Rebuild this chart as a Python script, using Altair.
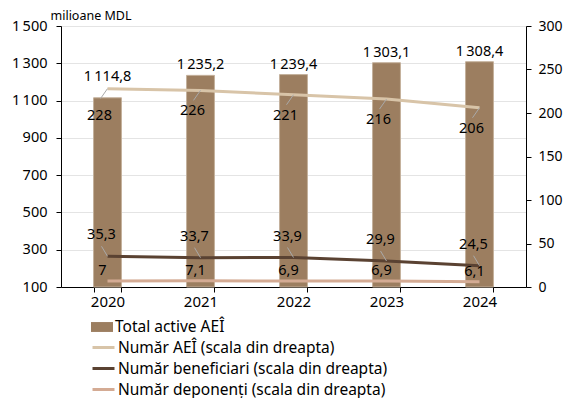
import altair as alt
import pandas as pd

years = ["2020", "2021", "2022", "2023", "2024"]
total_active = [1114.8, 1235.2, 1239.4, 1303.1, 1308.4]
nr_aei = [228, 226, 221, 216, 206]
nr_benef = [35.3, 33.7, 33.9, 29.9, 24.5]
nr_depon = [7, 7.1, 6.9, 6.9, 6.1]

bar_name = "Total active AEÎ"
s_aei = "Număr AEÎ (scala din dreapta)"
s_ben = "Număr beneficiari (scala din dreapta)"
s_dep = "Număr deponenți (scala din dreapta)"
line_names = [s_aei, s_ben, s_dep]

TS = "\u2009"


def ro(v):
    if float(v).is_integer():
        s = f"{int(v):,}"
    else:
        s = f"{v:,.1f}"
    return s.replace(",", "#").replace(".", ",").replace("#", TS)


bars = pd.DataFrame({"year": years, "value": total_active, "series": bar_name,
                     "label": [ro(v) for v in total_active]})
rows = []
for name, vals in zip(line_names, [nr_aei, nr_benef, nr_depon]):
    for y, v in zip(years, vals):
        rows.append({"year": y, "value": v, "series": name, "label": ro(v)})
lines = pd.DataFrame(rows)

FONT = "Noto Sans"
FS = 14.5
FX = 15
FL = 15.5
x_enc = alt.X("year:N", title=None,
              scale=alt.Scale(paddingInner=0.7, paddingOuter=0.35),
              axis=alt.Axis(labelAngle=0, tickBand="extent", tickSize=5, labelPadding=2,
                            labelFontSize=FX, domainColor="black", tickColor="black",
                            labelColor="black", labelFont=FONT))

yl_scale = alt.Scale(domain=[100, 1500], nice=False, zero=False)
left_axis = alt.Axis(values=[100, 300, 500, 700, 900, 1100, 1300, 1500],
                     labelExpr=f"replace(format(datum.value, ','), ',', '{TS}')",
                     labelOverlap=False,
                     title="milioane MDL", titleAngle=0, titleX=-11, titleY=-7,
                     titleAlign="left", titleBaseline="alphabetic", titleFontWeight="normal",
                     titleFontSize=12.5, titleFont=FONT, titleColor="black",
                     labelFontSize=FS, labelFont=FONT, labelColor="black",
                     tickSize=5, labelPadding=9, domainColor="black", tickColor="black",
                     grid=True, gridColor="#e4e4e4")
yl = alt.Y("value:Q", scale=yl_scale, axis=left_axis)

bar_color = alt.Color("series:N", title=None,
                      scale=alt.Scale(domain=[bar_name], range=["#9c7e60"]),
                      legend=alt.Legend(orient="none", legendX=30, legendY=290,
                                        symbolType="M-1,-0.45L1,-0.45L1,0.45L-1,0.45Z",
                                        symbolSize=484, symbolStrokeWidth=0,
                                        labelFontSize=FL, labelFont=FONT, labelColor="black",
                                        labelOffset=2, labelLimit=500, padding=0,
                                        direction="vertical"))

bar_layer = alt.Chart(bars).mark_bar(stroke="#c4b19c", strokeWidth=1).encode(
    x=x_enc, y=yl, y2=alt.datum(100), color=bar_color,
)
bar_text = alt.Chart(bars).mark_text(baseline="middle", dy=-10, fontSize=FS, font=FONT,
                                     color="black").encode(
    x=x_enc, y=yl, text="label:N"
).transform_filter("datum.year != '2020'")
bar_text0 = alt.Chart(bars).mark_text(baseline="middle", dy=-21, fontSize=FS, font=FONT,
                                      color="black").encode(
    x=x_enc, y=yl, text="label:N"
).transform_filter("datum.year == '2020'")

left = alt.layer(bar_layer, bar_text, bar_text0)

yr_scale = alt.Scale(domain=[0, 300], nice=False)
right_axis = alt.Axis(values=[0, 50, 100, 150, 200, 250, 300], orient="right", title=None,
                      labelFontSize=14, labelFont=FONT, labelColor="black", tickSize=5,
                      labelOverlap=False,
                      labelPadding=7, domainColor="black", tickColor="black", grid=False)
yr = alt.Y("value:Q", scale=yr_scale, axis=right_axis)

line_stroke = alt.Stroke("series:N", title=None,
                         scale=alt.Scale(domain=line_names,
                                         range=["#d8c4a8", "#5a4232", "#d4ab94"]),
                         legend=alt.Legend(orient="none", legendX=30, legendY=309,
                                           symbolType="stroke", symbolSize=484,
                                           symbolStrokeWidth=3,
                                           labelFontSize=FL, labelFont=FONT,
                                           labelColor="black", labelOffset=2, padding=0,
                                           labelLimit=500, rowPadding=-4,
                                           direction="vertical"))

line_layer = alt.Chart(lines).mark_line(strokeWidth=3).encode(
    x=x_enc, y=yr, stroke=line_stroke, order=alt.Order("year:N"),
)


def lab(series, dx, dy, cond=None):
    flt = f"datum.series == '{series}'"
    if cond:
        flt += " && " + cond
    return alt.Chart(lines).mark_text(baseline="middle", dx=dx, dy=dy, fontSize=FS,
                                      font=FONT, color="black").encode(
        x=x_enc, y=yr, text="label:N"
    ).transform_filter(flt)


def leader(series, path):
    return alt.Chart(lines).mark_point(shape=path, size=400, stroke="#a9a9a9",
                                       strokeWidth=1, filled=False, opacity=1).encode(
        x=x_enc, y=yr
    ).transform_filter(f"datum.series == '{series}'")


right = alt.layer(
    line_layer,
    leader(s_aei, "M0,0L-0.7,1"),
    leader(s_ben, "M0,0L-0.6,-1"),
    lab(s_aei, -8, 21, "datum.year != '2020'"),
    lab(s_aei, -8, 27, "datum.year == '2020'"),
    lab(s_ben, -6, -21),
    lab(s_dep, -5, -10),
)

chart = alt.layer(left, right).resolve_scale(
    y="independent", color="independent", stroke="independent"
).properties(
    width=465, height=261,
    padding={"left": 3, "top": 1, "right": 0, "bottom": 0},
).configure_view(stroke=None).configure(background="white")

chart.save("out.html", embed_options={"renderer": "svg", "actions": False})
